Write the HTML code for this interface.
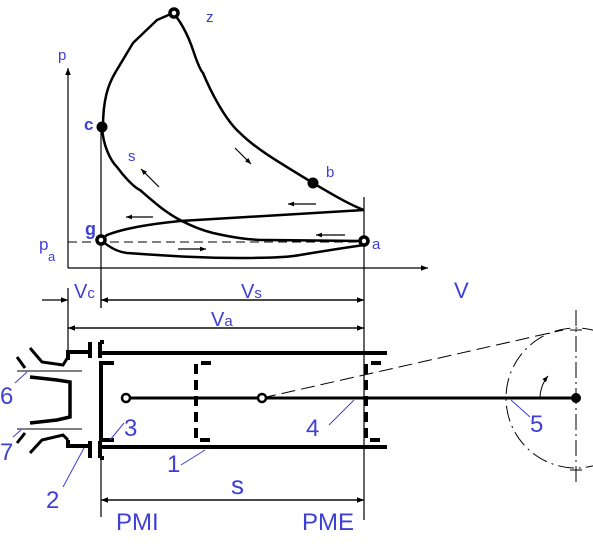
<!DOCTYPE html>
<html><head><meta charset="utf-8"><style>
html,body{margin:0;padding:0;background:#fff;width:593px;height:550px;overflow:hidden}
svg{display:block}
text{font-family:"Liberation Sans",sans-serif;fill:#3f3fd6}
</style></head><body>
<svg width="593" height="550" viewBox="0 0 593 550">
<defs>
<marker id="ah" viewBox="0 0 10 10" refX="10" refY="5" markerWidth="10" markerHeight="7" markerUnits="userSpaceOnUse" orient="auto-start-reverse"><path d="M0,1 L10,5 L0,9 Z" fill="#000"/></marker>
<marker id="ahs" viewBox="0 0 10 10" refX="10" refY="5" markerWidth="9" markerHeight="6" markerUnits="userSpaceOnUse" orient="auto"><path d="M0,1 L10,5 L0,9 Z" fill="#000"/></marker>
</defs>
<g fill="none" stroke="#000">
<line x1="68" y1="268" x2="68" y2="68" stroke-width="1.2" marker-end="url(#ah)"/>
<line x1="68" y1="268" x2="428" y2="268" stroke-width="1.2" marker-end="url(#ah)"/>
<line x1="68" y1="242" x2="364" y2="242" stroke-width="1" stroke-dasharray="9,5"/>
<line x1="101" y1="127" x2="101" y2="308" stroke-width="1.2"/>
<line x1="364" y1="197" x2="364" y2="520" stroke-width="1.2"/>
<path stroke-width="2.5" d="M103,127 C103,100 108,85 115,73 L133,43 L157,20 L173,13"/>
<path stroke-width="2.5" d="M173,13 C180,20 188,35 193,50 C197,62 200,70 203,73 C210,90 225,120 240,133 C255,148 275,160 313,183 C330,193 350,205 364,210"/>
<path stroke-width="2.5" d="M364,210 L180,221 C150,224 125,228 107,235 L101,240"/>
<path stroke-width="2.5" d="M102,127 C103,145 110,160 117,167 C125,178 135,188 140,190 C155,203 165,212 180,220 C195,228 205,231 213,233 C235,238 250,240 267,240 L364,241"/>
<path stroke-width="2.5" d="M101,240 C110,248 118,252 127,253 C170,256 200,258 240,258 C270,258 290,257 300,255 C330,250 350,247 364,245"/>
<g stroke-width="1.2">
<line x1="153" y1="217" x2="126" y2="217" marker-end="url(#ahs)"/>
<line x1="316" y1="204" x2="288" y2="204" marker-end="url(#ahs)"/>
<line x1="345" y1="235" x2="316" y2="235" marker-end="url(#ahs)"/>
<line x1="178" y1="249" x2="206" y2="249" marker-end="url(#ahs)"/>
<line x1="159" y1="187" x2="141" y2="169" marker-end="url(#ahs)"/>
<line x1="235" y1="148" x2="251" y2="164" marker-end="url(#ahs)"/>
</g>
<g fill="#000" stroke="#000">
<circle cx="102" cy="127" r="5"/>
<circle cx="174" cy="13" r="4" fill="#fff" stroke-width="3.5"/>
<circle cx="313" cy="183" r="5"/>
<circle cx="101" cy="240" r="4" fill="#fff" stroke-width="3.5"/>
<circle cx="364" cy="241" r="4" fill="#fff" stroke-width="3.5"/>
</g>
</g>
<g font-size="15">
<text x="58" y="60">p</text>
<text x="206" y="22">z</text>
<text x="84" y="130" font-size="17" font-weight="bold">c</text>
<text x="128" y="161">s</text>
<text x="326" y="177">b</text>
<text x="85" y="235" font-size="18" font-weight="bold">g</text>
<text x="372" y="249">a</text>
<text x="39" y="250" font-size="17">p</text><text x="48" y="261" font-size="13">a</text>
</g>
<g stroke="#000" stroke-width="1.2" fill="none">
<line x1="42" y1="300" x2="68" y2="300" marker-end="url(#ah)"/>
<line x1="68" y1="288" x2="68" y2="352"/>
<line x1="101" y1="280" x2="101" y2="308"/>
<line x1="364" y1="300" x2="101" y2="300" marker-end="url(#ah)"/>
<line x1="101" y1="300" x2="364" y2="300" marker-end="url(#ah)"/>
<line x1="364" y1="328" x2="68" y2="328" marker-end="url(#ah)"/>
<line x1="68" y1="328" x2="364" y2="328" marker-end="url(#ah)"/>
<line x1="101" y1="460" x2="101" y2="517"/>
<line x1="364" y1="500" x2="101" y2="500" marker-end="url(#ah)"/>
<line x1="101" y1="500" x2="364" y2="500" marker-end="url(#ah)"/>
</g>
<g font-size="20">
<text x="74" y="298">V<tspan font-size="15">c</tspan></text>
<text x="241" y="298">V<tspan font-size="15">s</tspan></text>
<text x="454" y="298" font-size="22">V</text>
<text x="211" y="326">V<tspan font-size="15">a</tspan></text>
<text x="231" y="494" font-size="26">s</text>
<text x="116" y="530" font-size="24">PMI</text>
<text x="302" y="530" font-size="24">PME</text>
</g>
<g stroke="#000" fill="none" stroke-width="4">
<line x1="100" y1="353" x2="387" y2="353"/>
<line x1="100" y1="447" x2="387" y2="447"/>
<path d="M68,360 L68,352 L90,352 M90,342 L90,358 M100,342 L100,358 M100,342 L104,342"/>
<path d="M68,440 L68,446 L90,446 M90,441 L90,458 M100,441 L100,458 M100,458 L104,458"/>
<path d="M30,348 L42,362 L63,365 L68,357" stroke-width="3"/>
<path d="M30,453 L42,440 L63,435 L68,440" stroke-width="3"/>
<path d="M17,357 L25,368 M17,443 L25,433" stroke-width="3"/>
<path d="M30,377 L57,380 L70,382 L70,417 L57,420 L30,423" stroke-width="3.5"/>
</g>
<g stroke="#000" stroke-width="1">
<line x1="17" y1="371" x2="82" y2="371"/>
<line x1="17" y1="429" x2="82" y2="429"/>
</g>
<g stroke="#000" fill="none" stroke-width="4">
<path d="M114,363 L101,363 L101,440 L114,440"/>
<path d="M211,363 L196,363 L196,440 L211,440" stroke-dasharray="10,6"/>
<path d="M381,363 L366,363 L366,440 L381,440" stroke-dasharray="10,6"/>
</g>
<g stroke="#000" fill="none">
<line x1="126" y1="398" x2="576" y2="398" stroke-width="3"/>
<line x1="262" y1="398" x2="563" y2="330" stroke-width="1" stroke-dasharray="14,6"/>
<circle cx="576" cy="398" r="70" stroke-width="1" stroke-dasharray="16,5,2,5"/>
<line x1="576" y1="310" x2="576" y2="485" stroke-width="1" stroke-dasharray="16,4,2,4"/>
<line x1="570" y1="330" x2="582" y2="330" stroke-width="1"/>
<line x1="570" y1="470" x2="582" y2="470" stroke-width="1"/>
<path d="M540,398 A36,36 0 0 1 548,376" stroke-width="1" marker-end="url(#ahs)"/>
<circle cx="126" cy="398" r="4" fill="#fff" stroke-width="2.5"/>
<circle cx="262" cy="398" r="4" fill="#fff" stroke-width="2.5"/>
<circle cx="576" cy="398" r="4.5" fill="#000"/>
</g>
<g stroke="#3f3fd6" stroke-width="1">
<line x1="15" y1="383" x2="27" y2="372"/>
<line x1="13" y1="437" x2="21" y2="430"/>
<line x1="63" y1="487" x2="84" y2="448"/>
<line x1="110" y1="440" x2="124" y2="423"/>
<line x1="181" y1="465" x2="205" y2="450"/>
<line x1="329" y1="425" x2="354" y2="400"/>
<line x1="511" y1="400" x2="530" y2="417"/>
</g>
<g font-size="24">
<text x="0" y="404">6</text>
<text x="0" y="460">7</text>
<text x="46" y="508">2</text>
<text x="124" y="436">3</text>
<text x="167" y="472">1</text>
<text x="306" y="436">4</text>
<text x="530" y="432">5</text>
</g>
</svg>
</body></html>
